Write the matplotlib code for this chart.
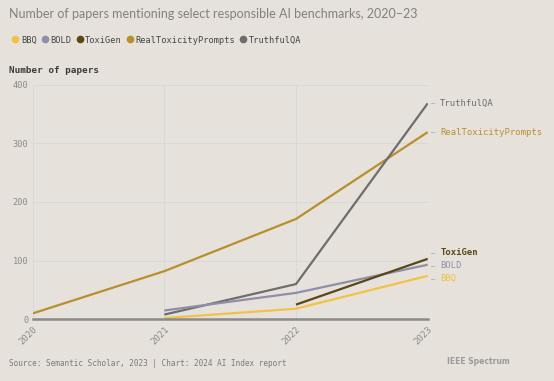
import matplotlib
matplotlib.use("Agg")
import matplotlib.pyplot as plt
from matplotlib.lines import Line2D

years_all = [2020, 2021, 2022, 2023]
series_names = ["BBQ", "BOLD", "ToxiGen", "RealToxicityPrompts", "TruthfulQA"]
bbq_years = [2021, 2022, 2023]
bbq = [2, 18, 74]
bold_years = [2021, 2022, 2023]
bold = [15, 45, 93]
toxigen_years = [2022, 2023]
toxigen = [25, 103]
rtp_years = [2020, 2021, 2022, 2023]
rtp = [10, 82, 171, 319]
tqa_years = [2021, 2022, 2023]
tqa = [8, 60, 368]
label_y = {"BBQ": 69, "BOLD": 91, "ToxiGen": 113, "RealToxicityPrompts": 319, "TruthfulQA": 368}
yticks = [0, 100, 200, 300, 400]

colors = {
    "BBQ": "#f1c148",
    "BOLD": "#8e8ea8",
    "ToxiGen": "#5a4716",
    "RealToxicityPrompts": "#b88f2c",
    "TruthfulQA": "#6d6d6d",
}
data = {
    "BBQ": (bbq_years, bbq),
    "BOLD": (bold_years, bold),
    "ToxiGen": (toxigen_years, toxigen),
    "RealToxicityPrompts": (rtp_years, rtp),
    "TruthfulQA": (tqa_years, tqa),
}

bg = "#e6e2db"
mono = ["DejaVu Sans Mono"]

fig = plt.figure(figsize=(5.54, 3.81), dpi=100, facecolor=bg)
ax = fig.add_axes([0.059, 0.162, 0.713, 0.616])
ax.set_facecolor(bg)

for name in ["RealToxicityPrompts", "TruthfulQA", "BOLD", "ToxiGen", "BBQ"]:
    xs, ys = data[name]
    ax.plot(xs, ys, color=colors[name], lw=1.6, solid_capstyle="butt", zorder=3)

ax.set_xlim(2020, 2023)
ax.set_ylim(0, 400)
ax.set_yticks(yticks)
ax.set_xticks(years_all)
ax.set_yticklabels([str(v) for v in yticks], family=mono, fontsize=6.2, color="#8a8a8a")
ax.set_xticklabels([str(v) for v in years_all], family=mono, fontsize=6.5, color="#8a8a8a",
                   rotation=45, ha="right", va="top", rotation_mode="anchor")
ax.tick_params(length=0, pad=3)
ax.tick_params(axis="x", pad=4)
ax.grid(True, color="#d6d9dd", lw=0.7, zorder=0)
for s in ["top", "right", "left"]:
    ax.spines[s].set_visible(False)
ax.spines["bottom"].set_color("#8a8a8a")
ax.spines["bottom"].set_linewidth(1.8)
ax.spines["bottom"].set_zorder(4)

# end labels
for name in series_names:
    ly = label_y[name]
    ax.annotate(name, xy=(2023, ly), xytext=(9, 0), textcoords="offset points",
                family=mono, fontsize=6.4, color=colors[name], va="center", ha="left",
                fontweight="bold" if name == "ToxiGen" else "normal", annotation_clip=False)
    ax.plot([2023.025, 2023.045], [ly, ly], color="#b0b0b0", lw=0.6, clip_on=False)

# title
fig.text(0.016, 0.963, "Number of papers mentioning select responsible AI benchmarks, 2020\u201323",
         family=["Lato", "DejaVu Sans"], fontsize=9, color="#808080",
         va="center", ha="left")

# legend
handles = [Line2D([], [], marker="o", ls="", markersize=4.5, color=colors[n]) for n in series_names]
leg = fig.legend(handles, series_names, loc="center left", bbox_to_anchor=(0.0076, 0.895),
                 ncol=5, frameon=False, prop={"family": mono, "size": 6.2},
                 handletextpad=0.24, columnspacing=0.55, handlelength=0.8, labelcolor="#444444")

fig.text(0.016, 0.816, "Number of papers", family=mono, fontweight="bold", fontsize=6.7,
         color="#3a3a3a", va="center", ha="left")

fig.text(0.016, 0.047, "Source: Semantic Scholar, 2023 | Chart: 2024 AI Index report",
         family=mono, fontsize=5.5, color="#7a7a7a", va="center", ha="left")
fig.text(0.92, 0.05, "IEEE Spectrum", family=["DejaVu Sans"], fontsize=5.5, color="#9a9a9a",
         va="center", ha="right", fontweight="bold")

fig.savefig("out.png", dpi=100, facecolor=bg)
